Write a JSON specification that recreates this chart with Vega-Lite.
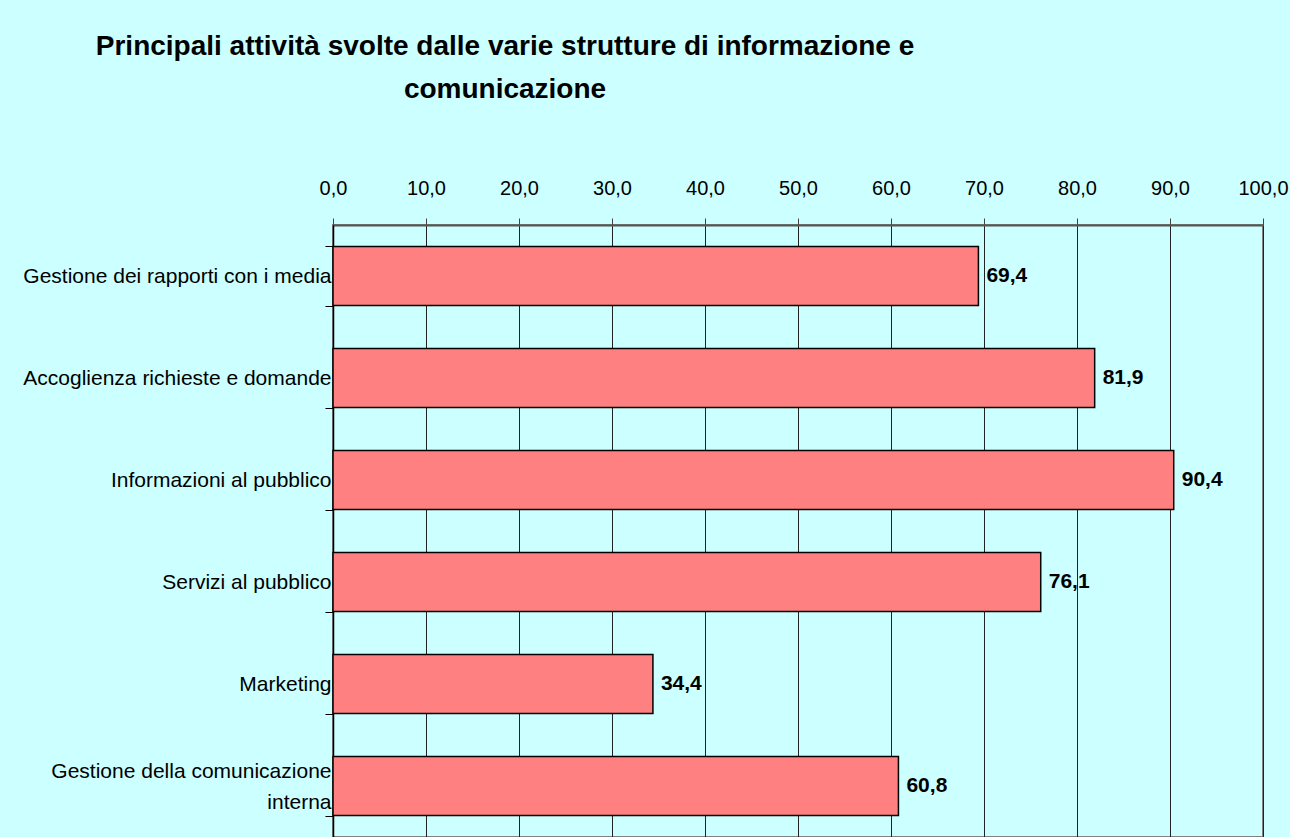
{
  "$schema": "https://vega.github.io/schema/vega-lite/v6.json",
  "width": 930,
  "height": 612,
  "autosize": {"type": "none"},
  "padding": {"left": 333, "top": 225, "right": 27, "bottom": 0},
  "background": "#CCFFFF",
  "config": {
    "locale": {"number": {"decimal": ",", "thousands": ".", "grouping": [3], "currency": ["", " €"]}},
    "font": "Liberation Sans",
    "view": {"stroke": "#808080", "strokeWidth": 2}
  },
  "title": {
    "text": ["Principali attività svolte dalle varie strutture di informazione e", "comunicazione"],
    "font": "Liberation Sans",
    "fontSize": 28,
    "fontWeight": "bold",
    "color": "#000000",
    "anchor": "middle",
    "dx": -293,
    "offset": 74,
    "lineHeight": 43
  },
  "data": {
    "values": [
      {"attivita": "Gestione dei rapporti con i media", "valore": 69.4},
      {"attivita": "Accoglienza richieste e domande", "valore": 81.9},
      {"attivita": "Informazioni al pubblico", "valore": 90.4},
      {"attivita": "Servizi al pubblico", "valore": 76.1},
      {"attivita": "Marketing", "valore": 34.4},
      {"attivita": "Gestione della comunicazione interna", "valore": 60.8}
    ]
  },
  "encoding": {
    "y": {
      "field": "attivita",
      "type": "nominal",
      "sort": null,
      "title": null,
      "scale": {"paddingInner": 0.42, "paddingOuter": 0.21},
      "axis": {
        "tickBand": "extent",
        "tickSize": 8,
        "tickColor": "#000000",
        "domainColor": "#000000",
        "domainWidth": 1.5,
        "labelFontSize": 21,
        "labelColor": "#000000",
        "labelFont": "Liberation Sans",
        "labelPadding": -6,
        "labelLimit": 400,
        "labelLineHeight": 31,
        "labelOffset": {"condition": {"test": "datum.value == 'Gestione della comunicazione interna'", "value": -15}, "value": 0},
        "grid": false,
        "labelExpr": "datum.label == 'Gestione della comunicazione interna' ? ['Gestione della comunicazione', 'interna'] : datum.label"
      }
    },
    "x": {
      "field": "valore",
      "type": "quantitative",
      "title": null,
      "scale": {"domain": [0, 100], "nice": false},
      "axis": {
        "orient": "top",
        "values": [0, 10, 20, 30, 40, 50, 60, 70, 80, 90, 100],
        "format": ".1f",
        "labelFontSize": 20,
        "labelColor": "#000000",
        "labelFont": "Liberation Sans",
        "labelPadding": 20,
        "tickSize": 7,
        "tickColor": "#444444",
        "domainColor": "#555555",
        "domainWidth": 2,
        "grid": true,
        "gridColor": "#222222",
        "gridOpacity": 1,
        "gridWidth": 1,
        "labelFlush": false
      }
    }
  },
  "layer": [
    {
      "mark": {"type": "bar", "fill": "#FF8080", "stroke": "#000000", "strokeWidth": 1.5}
    },
    {
      "mark": {"type": "text", "align": "left", "baseline": "middle", "dx": 8, "fontSize": 21, "fontWeight": "bold", "color": "#000000", "font": "Liberation Sans"},
      "encoding": {
        "text": {"field": "valore", "type": "quantitative", "format": ".1f"}
      }
    }
  ]
}
